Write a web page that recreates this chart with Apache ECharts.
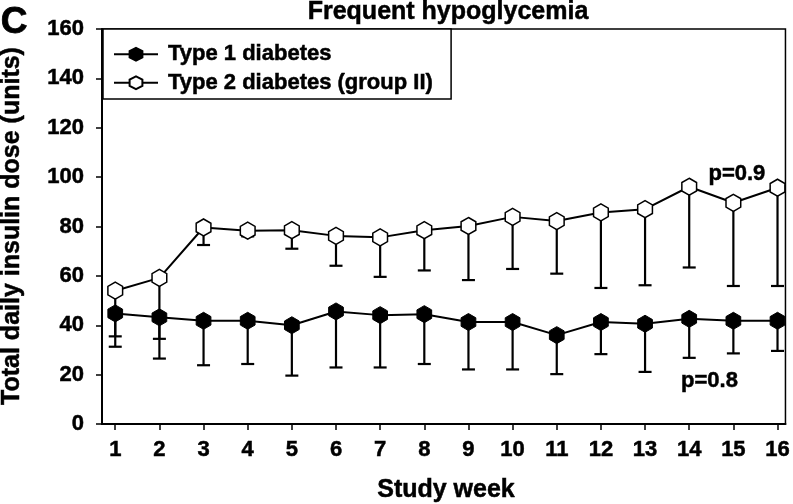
<!DOCTYPE html>
<html>
<head>
<meta charset="utf-8">
<script src="https://cdn.jsdelivr.net/npm/echarts@6/dist/echarts.min.js"></script>
<style>
html,body{margin:0;padding:0;background:#fff;}
#chart{width:793px;height:504px;}
</style>
</head>
<body>
<div id="chart"></div>
<script>
// ---- data ----
const weeks = [1,2,3,4,5,6,7,8,9,10,11,12,13,14,15,16];
const type1Mean  = [44.8, 43.2, 41.8, 41.8, 40.0, 45.6, 44.1, 44.5, 41.3, 41.3, 36.0, 41.3, 40.6, 42.6, 41.8, 41.8];
const type1Lower = [31.3, 26.5, 23.8, 24.3, 19.6, 22.9, 22.9, 24.3, 22.1, 22.1, 20.2, 28.3, 21.1, 26.8, 28.6, 29.6];
const type2Mean  = [54.0, 59.2, 79.6, 78.3, 78.5, 76.2, 75.6, 78.5, 80.2, 83.9, 82.2, 85.7, 87.0, 96.1, 89.6, 95.7];
const type2Lower = [35.5, 34.5, 72.5, 76.0, 71.0, 64.1, 59.6, 62.2, 58.3, 62.8, 60.9, 55.1, 56.2, 63.4, 55.9, 55.9];
const yTicks = [0,20,40,60,80,100,120,140,160];
const seriesNames = ['Type 1 diabetes', 'Type 2 diabetes (group II)'];
const titleText = 'Frequent hypoglycemia';
const panelLetter = 'C';
const xTitle = 'Study week';
const yTitle = 'Total daily insulin dose (units)';
const pNote2 = {text: 'p=0.9', week: 15.08, value: 101.2};
const pNote1 = {text: 'p=0.8', week: 14.46, value: 17.5};

// ---- chart ----
const FONT = '"Liberation Sans", Arial, Helvetica, sans-serif';
const hex = 'path://M0,-10 L8.66,-5 L8.66,5 L0,10 L-8.66,5 L-8.66,-5 Z';
const chart = echarts.init(document.getElementById('chart'), null, {renderer: 'canvas'});
const heavy = {textBorderColor: '#000', textBorderWidth: 0.5};

function errData(mean, lower) {
  return weeks.map((w, i) => [w, mean[i], lower[i]]);
}
function errRender(params, api) {
  const top = api.coord([api.value(0), api.value(1)]);
  const bot = api.coord([api.value(0), api.value(2)]);
  const hw = 6.5;
  const st = {stroke: '#000', lineWidth: 2.2};
  return {
    type: 'group',
    children: [
      {type: 'line', shape: {x1: top[0], y1: top[1], x2: bot[0], y2: bot[1]}, style: st},
      {type: 'line', shape: {x1: bot[0] - hw, y1: bot[1], x2: bot[0] + hw, y2: bot[1]}, style: st}
    ]
  };
}

const option = {
  animation: false,
  backgroundColor: '#fff',
  grid: {left: 102, right: 4, top: 29, bottom: 80, show: true, borderColor: '#000', borderWidth: 1.5, containLabel: false},
  xAxis: {
    type: 'value', min: 0.7, max: 16.18,
    axisLine: {show: true, lineStyle: {color: '#000', width: 2}},
    axisTick: {show: true, length: 6, lineStyle: {color: '#000', width: 1.5}, customValues: weeks},
    axisLabel: Object.assign({color: '#000', fontFamily: FONT, fontWeight: 'bold', fontSize: 22, margin: 15, customValues: weeks}, heavy),
    splitLine: {show: false}
  },
  yAxis: {
    type: 'value', min: 0, max: 160, interval: 20,
    axisLine: {show: true, lineStyle: {color: '#000', width: 2}},
    axisTick: {show: true, length: 6, lineStyle: {color: '#000', width: 1.5}, customValues: yTicks},
    axisLabel: Object.assign({color: '#000', fontFamily: FONT, fontWeight: 'bold', fontSize: 22, margin: 18, customValues: yTicks}, heavy),
    splitLine: {show: false}
  },
  legend: {
    data: seriesNames,
    orient: 'vertical',
    left: 103, top: 29,
    padding: [14, 18, 5, 10],
    itemGap: 6,
    itemWidth: 44, itemHeight: 16,
    backgroundColor: '#fff',
    borderColor: '#000', borderWidth: 1.5,
    textStyle: Object.assign({color: '#000', fontFamily: FONT, fontWeight: 'bold', fontSize: 22, lineHeight: 22, padding: [0, 0, 0, 5]}, heavy)
  },
  graphic: [
    {type: 'text', x: 448, y: 12, z: 100, style: {text: titleText, font: 'bold 25px ' + FONT, fill: '#000', align: 'center', verticalAlign: 'middle', stroke: '#000', lineWidth: 0.5}},
    {type: 'text', x: 14, y: 23, z: 100, style: {text: panelLetter, font: 'bold 37px ' + FONT, fill: '#000', align: 'center', verticalAlign: 'middle', stroke: '#000', lineWidth: 0.8}},
    {type: 'text', x: 446, y: 490, z: 100, style: {text: xTitle, font: 'bold 25px ' + FONT, fill: '#000', align: 'center', verticalAlign: 'middle', stroke: '#000', lineWidth: 0.5}},
    {type: 'text', x: 12, y: 226, rotation: Math.PI / 2, z: 100, style: {text: yTitle, font: 'bold 25px ' + FONT, fill: '#000', align: 'center', verticalAlign: 'middle', stroke: '#000', lineWidth: 0.5}}
  ],
  series: [
    {
      type: 'custom', name: 'err2', z: 1, renderItem: errRender,
      data: errData(type2Mean, type2Lower), encode: {x: 0, y: [1, 2]}, silent: true
    },
    {
      type: 'custom', name: 'err1', z: 1, renderItem: errRender,
      data: errData(type1Mean, type1Lower), encode: {x: 0, y: [1, 2]}, silent: true
    },
    {
      name: seriesNames[0], type: 'line', z: 3,
      data: weeks.map((w, i) => [w, type1Mean[i]]),
      symbol: hex, symbolSize: 17, symbolKeepAspect: true, showAllSymbol: true,
      lineStyle: {color: '#000', width: 2},
      itemStyle: {color: '#000', borderColor: '#000', borderWidth: 1},
      markPoint: {
        symbol: 'circle', symbolSize: 0, silent: true,
        label: Object.assign({show: true, position: 'inside', formatter: pNote1.text, color: '#000', fontFamily: FONT, fontWeight: 'bold', fontSize: 22}, heavy),
        data: [{coord: [pNote1.week, pNote1.value]}]
      }
    },
    {
      name: seriesNames[1], type: 'line', z: 4,
      data: weeks.map((w, i) => [w, type2Mean[i]]),
      symbol: hex, symbolSize: 17, symbolKeepAspect: true, showAllSymbol: true,
      lineStyle: {color: '#000', width: 2},
      itemStyle: {color: '#fff', borderColor: '#000', borderWidth: 1.5},
      markPoint: {
        symbol: 'circle', symbolSize: 0, silent: true,
        label: Object.assign({show: true, position: 'inside', formatter: pNote2.text, color: '#000', fontFamily: FONT, fontWeight: 'bold', fontSize: 22}, heavy),
        data: [{coord: [pNote2.week, pNote2.value]}]
      }
    }
  ]
};
chart.setOption(option);
</script>
</body>
</html>
